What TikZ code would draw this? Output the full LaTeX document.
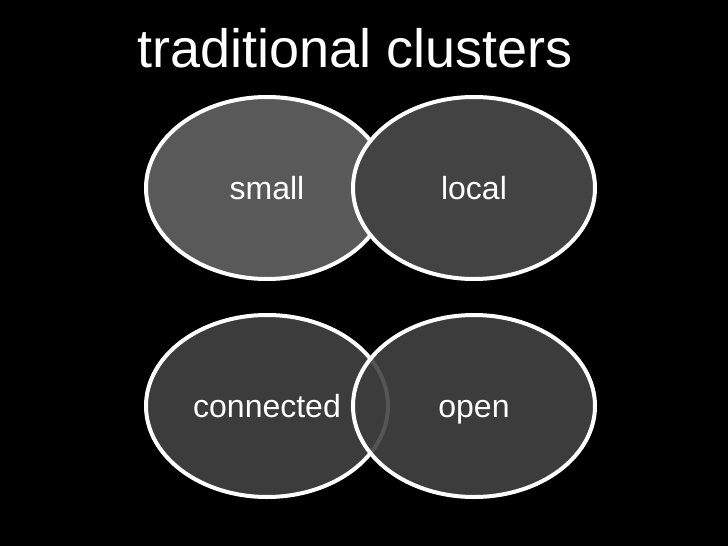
\documentclass[tikz,border=0pt]{standalone}
\usepackage{fontspec}
\setmainfont{Liberation Sans}
\usetikzlibrary{positioning, shapes.geometric}

\definecolor{lightblob}{RGB}{89,89,89}
\definecolor{midblob}{RGB}{67,67,67}
\definecolor{darkblob}{RGB}{60,60,60}

\begin{document}
\begin{tikzpicture}[
        x=1pt, y=-1pt,
        every node/.style={font=\fontsize{32}{38}\selectfont, text=white},
        blob/.style={ellipse, draw=white, line width=4pt, minimum width=242pt, minimum height=182pt, inner sep=0pt, text height=23pt, text depth=0pt},
        title/.style={font=\fontsize{54}{64}\selectfont, anchor=base}
    ]
        \fill[black] (0,0) rectangle (728,546);
        \node[title] (head) at (355,67) {traditional clusters};

        \node[blob, fill=lightblob] (small) at (267,188) {small};
        \node[blob, fill=midblob, right=-39pt of small] (local) {local};

        \node[blob, fill=darkblob, below=32pt of small] (connected) {connected};
        \node[blob, fill=darkblob, right=-39pt of connected] (open) {open};

        % faint edge of connected seen through open
        \begin{scope}
            \clip (open.center) ellipse (119 and 89);
            \draw[white, opacity=0.13, line width=4pt] (connected.center) ellipse (121 and 91);
        \end{scope}
    \end{tikzpicture}
\end{document}
